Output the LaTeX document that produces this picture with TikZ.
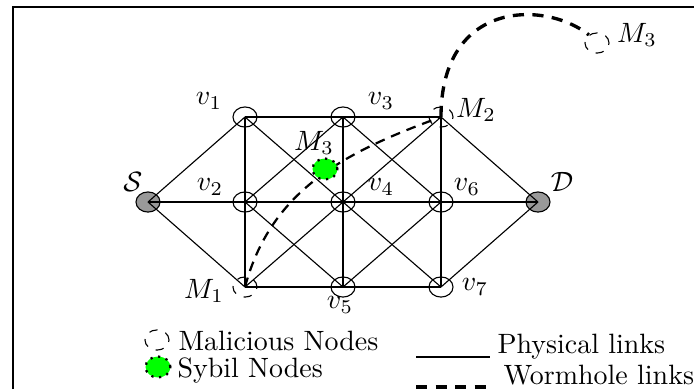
\documentclass[tikz,border=0pt]{standalone}
\usetikzlibrary{shapes.geometric}
\begin{document}
\begin{tikzpicture}[x=0.3578pt,y=-0.3578pt,
  nd/.style={ellipse, draw, minimum width=8.6pt, minimum height=7.2pt, inner sep=0pt, line width=0.4pt},
  mal/.style={nd, dashed},
  src/.style={nd, fill=gray!80},
  syb/.style={ellipse, draw, dotted, line width=0.8pt, fill=green, minimum width=8.9pt, minimum height=7.5pt, inner sep=0pt},
  lbl/.style={inner sep=0pt},
  link/.style={line width=0.4pt},
  worm/.style={dash pattern=on 3.5pt off 2.5pt, line width=0.8pt},
  bigworm/.style={dash pattern=on 4pt off 3pt, line width=1.2pt},
  frame/.style={line width=0.8pt}]
\useasboundingbox (0,0) rectangle (694,389);
% frame
\coordinate (f1) at (13,389); \coordinate (f2) at (13,7); \coordinate (f3) at (694,7);
\draw[frame] (f1) -- (f2) -- (f3);
% nodes
\node[src] (S) at (148,202) {};
\node[nd] (v1) at (245,117) {};
\node[nd] (v2) at (245,202) {};
\node[mal] (M1) at (245,287) {};
\node[nd] (v3) at (343,117) {};
\node[nd] (v4) at (343,202) {};
\node[nd] (v5) at (343,287) {};
\node[mal] (M2) at (441,117) {};
\node[nd] (v6) at (441,202) {};
\node[nd] (v7) at (441,287) {};
\node[src] (D) at (538,202) {};
\node[mal] (M3f) at (597,43) {};
% physical links
\foreach \a/\b in {S/v1,S/v2,S/M1,v1/v3,v1/v2,v1/v4,v2/v4,v2/v3,v2/M1,v2/v5,M1/v5,M1/v4,
  v3/v4,v3/M2,v3/v6,v4/v5,v4/v6,v4/M2,v4/v7,v5/v7,v5/v6,M2/v6,M2/D,v6/D,v6/v7,v7/D}
  \draw[link] (\a.center) -- (\b.center);
% wormhole links
\draw[worm] (M1.center) to[out=75,in=200] (M2.center);
\draw[bigworm] (M2.center) .. controls (441,0) and (545,0) .. (M3f.135);
% sybil
\node[syb] (M3s) at (325,169) {};
% labels
\node[lbl] (lS) at (133,182) {$\mathcal{S}$};
\node[lbl] (lv1) at (209,101) {$v_1$};
\node[lbl] (lv2) at (210,187) {$v_2$};
\node[lbl] (lv3) at (381,101) {$v_3$};
\node[lbl] (lv4) at (381,187) {$v_4$};
\node[lbl] (lv5) at (340,305) {$v_5$};
\node[lbl] (lv6) at (467,187) {$v_6$};
\node[lbl] (lv7) at (475,287) {$v_7$};
\node[lbl] (lD) at (562,182) {$\mathcal{D}$};
\node[lbl] (lM1) at (204,291) {$M_1$};
\node[lbl] (lM2) at (476,110) {$M_2$};
\node[lbl] (lM3s) at (314,143) {$M_3$};
\node[lbl] (lM3f) at (637,35) {$M_3$};
% legend
\node[mal] (lm) at (157,340) {};
\node[lbl, anchor=base west] (lmt) at (178,350) {Malicious Nodes};
\node[syb] (ls) at (158,367) {};
\node[lbl, anchor=base west] (lst) at (177,377) {Sybil Nodes};
\coordinate (pl1) at (416,357); \coordinate (pl2) at (490,357);
\draw[link] (pl1) -- (pl2);
\node[lbl, anchor=base west] (plt) at (497,353) {Physical links};
\coordinate (wl1) at (416,387); \coordinate (wl2) at (492,387);
\draw[bigworm] (wl1) -- (wl2);
\node[lbl, anchor=base west] (wlt) at (503,384) {Wormhole links};
\end{tikzpicture}
\end{document}
